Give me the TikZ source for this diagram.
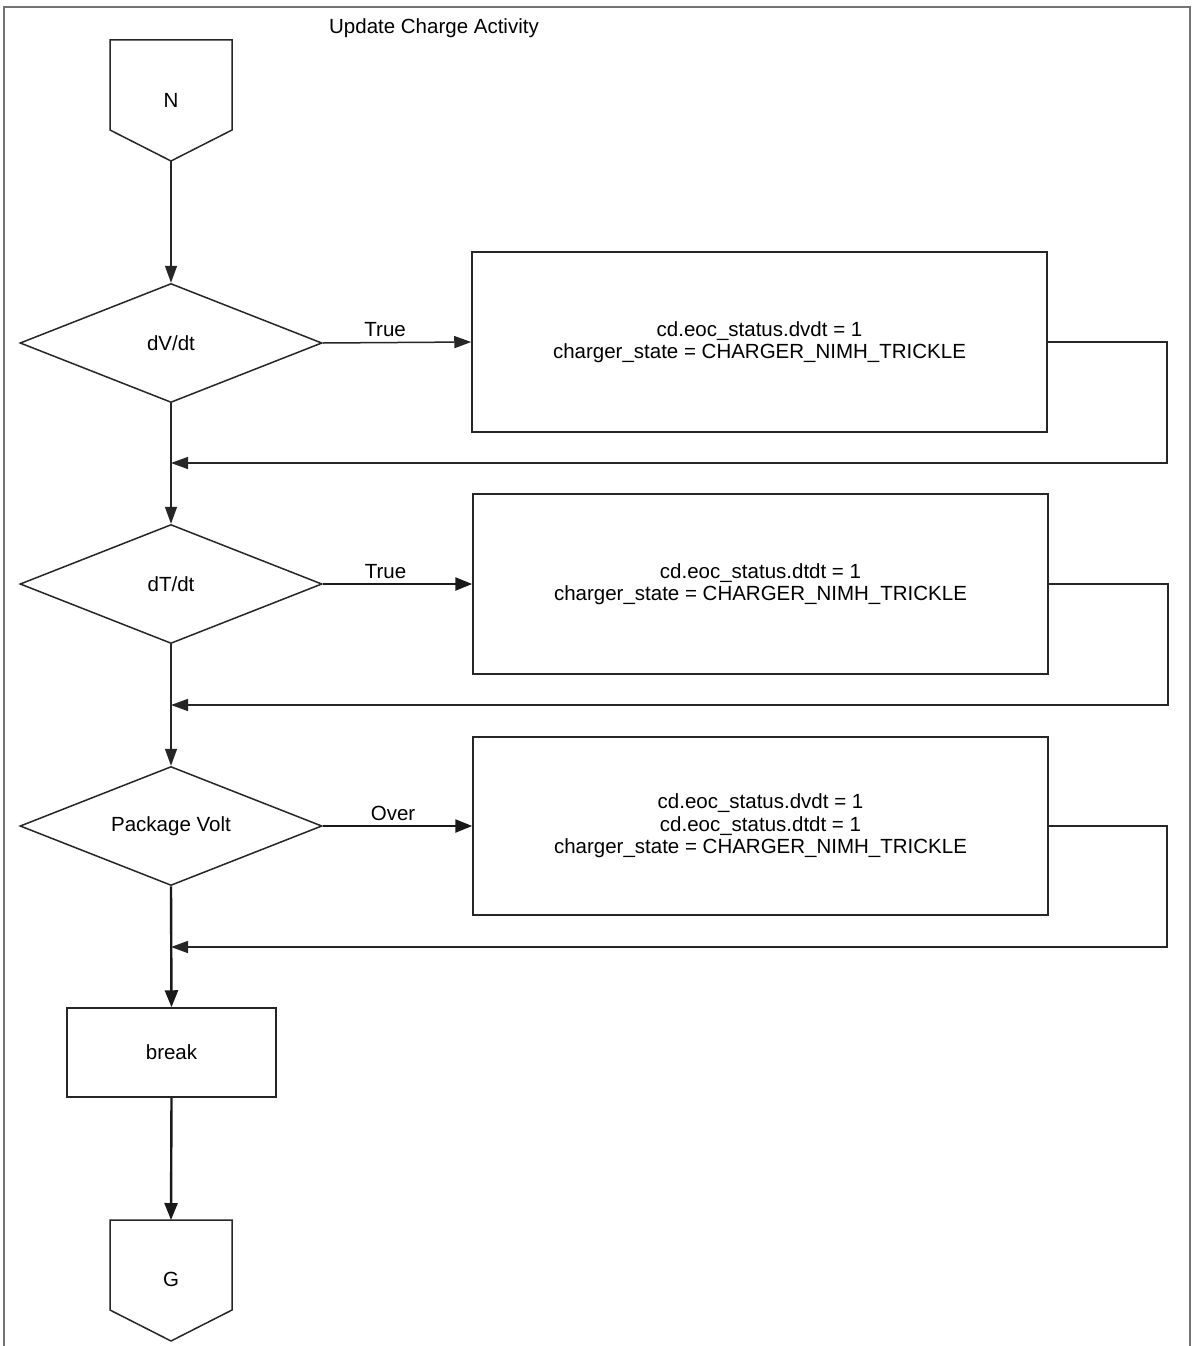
\documentclass[tikz,border=0pt]{standalone}
\usepackage{fontspec}
\setmainfont{Liberation Sans}
\usetikzlibrary{arrows.meta,shapes.geometric}
\begin{document}
\begin{tikzpicture}[x=1pt,y=-1pt,
  font=\fontsize{20.5}{22.5}\selectfont,
  line/.style={draw=black!85, line width=1.5pt},
  thick line/.style={draw=black!90, line width=2.4pt},
  arr/.style={line, -{Triangle[length=17pt,width=12pt]}},
  thick arr/.style={thick line, -{Triangle[length=17pt,width=13pt]}},
  decision/.style={shape=diamond, line, minimum width=302pt, minimum height=119pt, inner sep=0pt},
  actionbox/.style={shape=rectangle, line, minimum width=575pt, minimum height=180pt, align=center, inner sep=0pt},
  smallbox/.style={shape=rectangle, line, minimum width=209pt, minimum height=89pt, inner sep=0pt},
  conn/.style={line},
  lbl/.style={inner sep=0pt, anchor=base}]
\useasboundingbox (0,0) rectangle (1193,1346);
\fill[white] (0,0) rectangle (1193,1346);
% outer frame
\draw[draw=black!55, line width=1.6pt] (4,1346) -- (4,7) -- (1190,7) -- (1190,1346);
\node[lbl] (title) at (434,34) {Update Charge Activity};

% off-page connector N
\draw[conn] (110,40) -- (232,40) -- (232,130) -- (171,161) -- (110,130) -- cycle;
\node (N) at (171,100) {N};
\coordinate (Ntip) at (171,161);

% decisions
\node[decision, label=center:{dV/dt}] (d1) at (171,343) {};
\node[decision, label=center:{dT/dt}] (d2) at (171,584) {};
\node[decision, label=center:{Package Volt}] (d3) at (171,826) {};

% action boxes
\node[actionbox] (b1) at (759.5,342) {cd.eoc\_status.dvdt = 1\\charger\_state = CHARGER\_NIMH\_TRICKLE};
\node[actionbox] (b2) at (760.5,584) {cd.eoc\_status.dtdt = 1\\charger\_state = CHARGER\_NIMH\_TRICKLE};
\node[actionbox, minimum height=178pt] (b3) at (760.5,826) {cd.eoc\_status.dvdt = 1\\cd.eoc\_status.dtdt = 1\\charger\_state = CHARGER\_NIMH\_TRICKLE};

% break box
\node[smallbox] (brk) at (171.5,1052.5) {break};

% off-page connector G
\draw[conn] (110,1220) -- (232,1220) -- (232,1310) -- (171,1341) -- (110,1310) -- cycle;
\node (G) at (171,1279) {G};
\coordinate (Gtop) at (171,1220);

% junctions
\coordinate (j1) at (171,463);
\coordinate (j2) at (171,705);
\coordinate (j3) at (171,947);
\coordinate (r1) at (1167,342);
\coordinate (r2) at (1168,584);
\coordinate (r3) at (1167,826);

% main flow
\draw[arr] (Ntip) -- (d1.north);
\draw[arr] (d1.south) -- (d2.north);
\draw[arr] (d2.south) -- (d3.north);
\draw[thick arr] (d3.south) -- (brk.north);
\draw[thick arr] (brk.south) -- (Gtop);

% branches
\draw[arr] (d1.east) -- (b1.west) node[lbl, pos=0.42, yshift=6pt] (t1) {True};
\draw[thick arr] (d2.east) -- (b2.west) node[lbl, pos=0.42, yshift=6pt] (t2) {True};
\draw[thick arr] (d3.east) -- (b3.west) node[lbl, pos=0.47, yshift=6pt] (t3) {Over};

% return loops
\draw[arr] (b1.east) -- (r1) |- (j1);
\draw[arr] (b2.east) -- (r2) |- (j2);
\draw[arr] (b3.east) -- (r3) |- (j3);
\end{tikzpicture}
\end{document}
